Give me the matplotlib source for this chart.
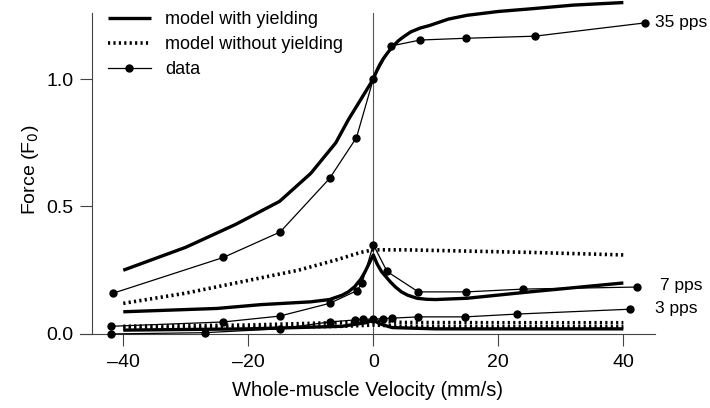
import matplotlib.pyplot as plt

plt.rcParams['font.family'] = ['Liberation Sans', 'DejaVu Sans']

# 35 pps
v35_model = [-40, -30, -22, -15, -10, -8, -6, -4, -3, -2, -1, 0, 0.5, 1, 1.6, 2.2, 3, 4, 4.8, 6, 7.5, 9, 12, 15, 20, 25, 32, 40]
f35_model = [0.25, 0.34, 0.43, 0.52, 0.63, 0.69, 0.75, 0.84, 0.88, 0.92, 0.96, 1.0, 1.03, 1.055, 1.08, 1.10, 1.125, 1.15, 1.165, 1.185, 1.20, 1.21, 1.235, 1.25, 1.265, 1.275, 1.29, 1.30]
v35_noy = [-40, -30, -20, -12, -6, -2, 0, 5, 15, 25, 40]
f35_noy = [0.12, 0.16, 0.21, 0.25, 0.29, 0.32, 0.33, 0.33, 0.325, 0.32, 0.31]
v35_data = [-41.6, -24, -14.9, -7, -2.7, 0, 2.9, 7.5, 14.9, 25.8, 43.4]
f35_data = [0.16, 0.30, 0.40, 0.61, 0.77, 1.0, 1.13, 1.153, 1.16, 1.168, 1.22]

# 7 pps
v7_model = [-40, -25, -18, -10, -7, -5, -4, -3, -2, -1.3, -0.6, 0, 0.6, 1.3, 2, 2.7, 3.5, 4.5, 5.5, 7, 8.5, 10, 15, 25, 40]
f7_model = [0.087, 0.10, 0.115, 0.126, 0.135, 0.152, 0.165, 0.185, 0.215, 0.245, 0.28, 0.31, 0.275, 0.245, 0.225, 0.205, 0.185, 0.165, 0.152, 0.14, 0.136, 0.135, 0.14, 0.165, 0.20]
v7_noy = [-40, -20, -5, 0, 5, 20, 40]
f7_noy = [0.03, 0.035, 0.045, 0.05, 0.045, 0.044, 0.044]
v7_data = [-42, -24, -15, -7, -2.6, -1.8, 0, 2.2, 7.2, 14.9, 24, 42.2]
f7_data = [0.03, 0.047, 0.07, 0.12, 0.17, 0.20, 0.35, 0.245, 0.165, 0.165, 0.176, 0.184]

# 3 pps
v3_model = [-40, -20, -5, -1, 0, 1, 3, 10, 40]
f3_model = [0.015, 0.02, 0.03, 0.045, 0.055, 0.04, 0.025, 0.02, 0.02]
v3_noy = [-40, -20, -5, 0, 5, 20, 40]
f3_noy = [0.022, 0.025, 0.03, 0.035, 0.03, 0.028, 0.028]
v3_data = [-42, -27, -15, -7, -2.9, -1.6, 0, 1.6, 3, 7.2, 14.7, 23, 41]
f3_data = [0.0, 0.005, 0.02, 0.047, 0.055, 0.058, 0.058, 0.06, 0.062, 0.067, 0.067, 0.078, 0.097]

fig = plt.figure(figsize=(7.1, 4.08), dpi=100)
ax = fig.add_axes([0.112, 0.169, 0.81, 0.831])

ax.axvline(0, ymax=(1.26 + 0.02) / 1.33, color='#555555', lw=0.8, zorder=1)

thick = dict(color='black', lw=2.4, solid_capstyle='butt', zorder=3)
dotted = dict(color='black', lw=2.6, linestyle=(0, (0.6, 0.9)), zorder=3)
data = dict(color='black', lw=0.9, marker='o', ms=5, zorder=4)

ax.plot(v35_model, f35_model, **thick, label='model with yielding')
ax.plot(v35_noy, f35_noy, **dotted, label='model without yielding')
ax.plot(v35_data, f35_data, **data, label='data')

ax.plot(v7_model, f7_model, **thick)
ax.plot(v7_noy, f7_noy, **dotted)
ax.plot(v7_data, f7_data, **data)

ax.plot(v3_model, f3_model, **thick)
ax.plot(v3_noy, f3_noy, **dotted)
ax.plot(v3_data, f3_data, **data)

ax.text(45.0, 1.22, '35 pps', fontsize=12.5, va='center', clip_on=False)
ax.text(45.8, 0.19, '7 pps', fontsize=12.5, va='center', clip_on=False)
ax.text(45.0, 0.10, '3 pps', fontsize=12.5, va='center', clip_on=False)

ax.set_xlim(-47, 45)
ax.set_ylim(-0.02, 1.31)
ax.spines['top'].set_visible(False)
ax.spines['right'].set_visible(False)
ax.spines['left'].set_position(('data', -45))
ax.spines['left'].set_bounds(0, 1.26)
ax.spines['bottom'].set_position(('data', 0))
ax.spines['left'].set_color('#444444')
ax.spines['bottom'].set_color('#444444')
ax.spines['left'].set_zorder(6)

ax.set_xticks([-40, -20, 0, 20, 40])
ax.set_xticklabels(['\u201340', '\u201320', '0', '20', '40'])
ax.set_yticks([0.0, 0.5, 1.0])
ax.set_yticklabels(['0.0', '0.5', '1.0'])
ax.tick_params(labelsize=14, length=8.5, width=0.8, color='#444444', pad=5)
ax.tick_params(axis='x', pad=6)

ax.set_xlabel('Whole-muscle Velocity (mm/s)', fontsize=14.5, labelpad=7)
ax.set_ylabel('Force (F$_0$)', fontsize=14, labelpad=4)

leg = ax.legend(loc='upper left', bbox_to_anchor=(0.03, 1.0), frameon=True, fontsize=13,
                handlelength=2.4, handletextpad=0.8, labelspacing=0.45, borderaxespad=0.2)
leg.get_frame().set_edgecolor('none')
leg.get_frame().set_facecolor('white')
leg.get_frame().set_alpha(1)
leg.set_zorder(5)

fig.savefig('out.png', dpi=100)
